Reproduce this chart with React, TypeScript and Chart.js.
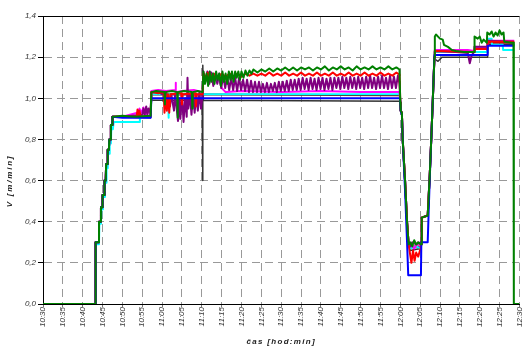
import React, { useEffect, useRef } from 'react';
import { Chart, registerables } from 'chart.js';

Chart.register(...registerables);

type P = [number, number];

// time = minutes after 10:30, value = V [m/min]
const X_TICK_LABELS = ['10:30','10:35','10:40','10:45','10:50','10:55','11:00','11:05','11:10','11:15','11:20','11:25','11:30','11:35','11:40','11:45','11:50','11:55','12:00','12:05','12:10','12:15','12:20','12:25','12:30'];
const Y_TICK_LABELS = ['0,0','0,2','0,4','0,6','0,8','1,0','1,2','1,4'];
const X_TITLE = 'čas [hod:min]';
const Y_TITLE = 'V [m/min]';

const RAMP: P[] = [[0,0],[13.2,0],[13.25,0.3],[14.0,0.3],[14.1,0.4],[14.5,0.4],[14.6,0.47],[14.9,0.47],[15.0,0.53],[15.4,0.53],[15.5,0.6],[15.8,0.6],[15.9,0.68],[16.2,0.68],[16.3,0.75],[16.6,0.75],[16.7,0.8],[17.0,0.8],[17.1,0.87],[17.4,0.87],[17.5,0.91]];
const DROP: P[] = [[90.0,0.98],[90.1,0.94],[90.4,0.93],[90.6,0.8],[91.2,0.6],[91.7,0.4],[92.1,0.29]];
const RISE: P[] = [[95.3,0.29],[95.4,0.42],[96.9,0.43],[97.4,0.62],[97.9,0.85],[98.3,1.05],[98.6,1.2]];

const GREEN: P[] = [...RAMP,
  [20,0.915],[23,0.91],[27.1,0.915],[27.3,1.03],[28.5,1.035],[30.6,1.03],[30.7,0.97],[30.8,1.03],[32.5,1.035],[33.8,1.03],[33.9,0.905],[34.0,1.03],[35.5,1.035],[37.5,1.03],[37.6,0.95],[37.7,1.03],[39,1.035],[40.2,1.03],
  [40.4,1.13],[40.8,1.07],[41.2,1.12],[41.6,1.06],[42,1.13],[42.4,1.08],[42.8,1.12],[43.2,1.07],[43.6,1.13],[44,1.09],[44.4,1.12],[44.8,1.06],[45.2,1.13],[45.6,1.08],[46,1.12],[46.4,1.07],[46.8,1.13],[47.2,1.09],[47.6,1.13],[48,1.08],[48.4,1.13],[48.8,1.1],[49.2,1.13],[49.6,1.09],[50,1.13],[50.5,1.1],[51,1.135],[51.5,1.11],[52,1.135],[52.5,1.12],[53,1.14],[54,1.125],[55,1.14],[56,1.13],[57,1.145],[58,1.13],[59,1.145],[60,1.135],[61,1.15],[62,1.135],[63,1.15],[64,1.135],[65,1.15],[66,1.14],[67,1.15],[68,1.135],[69,1.15],[70,1.14],[71,1.155],[72,1.135],[73,1.15],[74,1.14],[75,1.155],[76,1.14],[77,1.15],[78,1.135],[79,1.155],[80,1.14],[81,1.15],[82,1.14],[83,1.155],[84,1.14],[85,1.15],[86,1.14],[87,1.155],[88,1.14],[89,1.15],[89.8,1.14],
  ...DROP,
  [92.5,0.3],[93,0.28],[93.5,0.31],[94,0.29],[94.5,0.3],[95.1,0.29],
  ...RISE,
  [98.7,1.3],[99,1.31],[99.5,1.3],[100,1.29],[100.7,1.285],[101,1.26],[102,1.25],[103,1.235],[104,1.23],[106,1.225],[108.6,1.225],[108.7,1.3],[109.5,1.29],[110,1.3],[110.5,1.27],[111,1.285],[111.8,1.27],[111.9,1.32],[112.5,1.31],[113,1.325],[113.5,1.3],[114,1.32],[114.5,1.305],[115,1.33],[115.5,1.31],[116,1.32],[116.2,1.275],[118,1.27],[118.5,1.27],[118.6,0],[120,0]];

const BLUE: P[] = [...RAMP,
  [20,0.905],[27.1,0.905],[27.3,1.0],[89.9,1.0],
  [90.1,0.94],[90.4,0.92],[90.6,0.8],[91.2,0.55],[91.7,0.3],[92.0,0.14],[95.2,0.14],[95.3,0.3],[96.9,0.3],[97.4,0.6],[97.9,0.85],[98.3,1.05],[98.6,1.21],[111.9,1.21],[112,1.255],[118.7,1.255]];

const CYAN: P[] = [[0,0],[13.3,0],[13.35,0.29],[14.1,0.29],[14.2,0.39],[14.6,0.39],[14.7,0.46],[15.0,0.46],[15.1,0.52],[15.5,0.52],[15.6,0.59],[15.9,0.59],[16.0,0.66],[16.3,0.66],[16.4,0.73],[16.7,0.73],[16.8,0.78],[17.1,0.78],[17.2,0.85],[17.6,0.85],[17.8,0.885],[24.3,0.885],[24.4,0.91],[27.1,0.91],[27.3,1.02],[31.5,1.02],[31.6,0.905],[31.7,1.02],[89.9,1.02],
  ...DROP,
  [92.5,0.27],[94,0.28],[95.1,0.27],
  ...RISE,
  [98.7,1.225],[111.9,1.225],[112,1.29],[113,1.29],[113.1,1.26],[115.8,1.26],[115.9,1.235],[118.7,1.235]];

const RED: P[] = [...RAMP,
  [20,0.91],[23.6,0.91],[23.8,0.945],[24.0,0.91],[24.3,0.94],[24.6,0.91],[27.1,0.91],[27.3,1.03],[29,1.025],[30.4,1.03],[30.6,0.93],[30.9,1.02],[31.2,0.94],[31.5,1.02],[31.8,0.93],[32.1,1.02],[34.8,1.025],[35,0.97],[35.2,1.02],[38.3,1.025],[38.5,0.96],[38.7,1.02],[40.2,1.02],
  [40.4,1.12],[41,1.1],[41.5,1.125],[42,1.1],[43,1.12],[44,1.1],[45,1.12],[46,1.105],[47,1.12],[48,1.105],[49,1.12],[50,1.105],[51,1.12],[52,1.11],[53,1.12],[54,1.11],[55,1.12],[56,1.11],[57,1.125],[58,1.11],[59,1.12],[60,1.11],[61,1.125],[62,1.11],[63,1.12],[64,1.11],[65,1.125],[66,1.11],[67,1.12],[68,1.11],[69,1.125],[70,1.11],[71,1.12],[72,1.11],[73,1.125],[74,1.11],[75,1.12],[76,1.11],[77,1.125],[78,1.11],[79,1.12],[80,1.11],[81,1.125],[82,1.11],[83,1.12],[84,1.11],[85,1.125],[86,1.11],[87,1.12],[88,1.11],[89,1.125],[89.8,1.115],
  ...DROP,
  [92.4,0.25],[92.8,0.2],[93.2,0.26],[93.6,0.21],[94,0.25],[94.5,0.23],[95.1,0.27],
  ...RISE,
  [98.7,1.23],[108.6,1.225],[108.7,1.24],[111.9,1.24],[112,1.275],[118.7,1.275]];

const PURPLE: P[] = [...RAMP,
  [20,0.91],[25,0.92],[25.3,0.95],[25.6,0.92],[26,0.96],[26.3,0.92],[26.6,0.95],[27.1,0.93],[27.3,1.03],[29,1.03],[30,1.02],[31,1.03],[32,0.96],[32.3,1.02],[33,0.94],[33.3,1.02],[34,0.89],[34.3,1.0],[34.6,0.9],[35,1.02],[35.4,0.885],[35.8,1.0],[36.2,0.91],[36.4,1.1],[36.6,0.95],[37,1.02],[37.4,0.92],[37.8,1.02],[38.2,0.93],[38.6,1.02],[39,0.94],[39.4,1.03],[39.8,0.95],[40.2,1.02],
  [40.4,1.13],[40.9,1.08],[41.4,1.13],[41.9,1.07],[42.4,1.125],[42.9,1.06],[43.4,1.12],[43.9,1.07],[44.4,1.12],[44.9,1.05],[45.4,1.11],[45.9,1.05],[46.4,1.11],[46.9,1.04],[47.4,1.10],[47.9,1.04],[48.4,1.10],[48.9,1.035],[49.4,1.10],[49.9,1.04],[50.4,1.09],[50.9,1.035],[51.4,1.09],[51.9,1.03],[52.4,1.085],[52.9,1.03],[53.4,1.08],[53.9,1.03],[54.4,1.08],[54.9,1.03],[55.4,1.07],[55.9,1.03],[56.4,1.075],[56.9,1.03],[57.4,1.07],[57.9,1.035],[58.4,1.075],[58.9,1.03],[59.4,1.08],[59.9,1.035],[60.4,1.08],[60.9,1.035],[61.4,1.085],[61.9,1.035],[62.4,1.09],[62.9,1.04],[63.4,1.09],[63.9,1.04],[64.4,1.095],[64.9,1.04],[65.4,1.1],[65.9,1.045],[66.4,1.095],[66.9,1.04],[67.4,1.1],[67.9,1.045],[68.4,1.095],[68.9,1.04],[69.4,1.1],[69.9,1.045],[70.4,1.1],[70.9,1.04],[71.4,1.095],[71.9,1.045],[72.4,1.1],[72.9,1.04],[73.4,1.1],[73.9,1.05],[74.4,1.1],[74.9,1.045],[75.4,1.105],[75.9,1.05],[76.4,1.1],[76.9,1.045],[77.4,1.105],[77.9,1.05],[78.4,1.1],[78.9,1.045],[79.4,1.105],[79.9,1.05],[80.4,1.1],[80.9,1.045],[81.4,1.105],[81.9,1.05],[82.4,1.11],[82.9,1.05],[83.4,1.1],[83.9,1.045],[84.4,1.105],[84.9,1.05],[85.4,1.11],[85.9,1.05],[86.4,1.1],[86.9,1.045],[87.4,1.11],[87.9,1.05],[88.4,1.105],[88.9,1.05],[89.4,1.11],[89.8,1.07],
  ...DROP,
  [92.5,0.28],[93,0.3],[94,0.29],[95.1,0.3],
  ...RISE,
  [98.7,1.23],[104,1.225],[107,1.22],[107.5,1.17],[108,1.21],[108.6,1.225],[108.7,1.25],[111.9,1.25],[112,1.28],[118.7,1.275]];

const MAGENTA: P[] = [...RAMP,
  [20,0.91],[23.8,0.93],[24.3,0.95],[24.8,0.93],[25.3,0.955],[25.8,0.92],[26.3,0.945],[27.1,0.92],[27.3,1.035],[29,1.04],[31,1.035],[33.3,1.04],[33.4,1.075],[33.5,1.03],[35,1.035],[38,1.04],[40.2,1.03],
  [40.4,1.12],[41,1.1],[42,1.13],[43,1.09],[44,1.11],[45,1.05],[46,1.03],[50,1.035],[60,1.03],[70,1.035],[80,1.03],[89.8,1.03],
  ...DROP,
  [92.5,0.29],[93.5,0.27],[94.5,0.3],[95.1,0.28],
  ...RISE,
  [98.7,1.235],[107,1.235],[108.6,1.23],[108.7,1.25],[111.9,1.245],[112,1.28],[118.7,1.28]];

const MAROON: P[] = [...RAMP,
  [27.1,0.91],[27.3,1.02],[89.9,1.015],
  ...DROP,
  [92.5,0.28],[95.1,0.28],
  ...RISE,
  [98.7,1.225],[111.9,1.225],[112,1.27],[118.7,1.27]];

const GRAY: P[] = [...RAMP,
  [27.1,0.905],[27.3,0.99],[40.1,0.99],[40.2,0.6],[40.3,1.16],[40.4,0.99],[89.9,0.985],
  ...DROP,
  [92.5,0.26],[95.1,0.27],
  ...RISE,
  [98.7,1.19],[99.5,1.18],[100.5,1.2],[111.9,1.2],[112,1.26],[118.7,1.26]];

const SERIES_DATA: P[][] = [GREEN, BLUE, RED, PURPLE, MAGENTA, CYAN, MAROON, GRAY];
const SERIES_COLORS = ['#008000', '#0000ff', '#ff0000', '#800080', '#ff00ff', '#00ffff', '#800000', '#333333'];
const SERIES_WIDTHS = [2, 2, 2, 2, 2, 2, 2, 1.5];

const FONT_FAMILY = '"Liberation Sans", Arial, sans-serif';

const titlesPlugin = {
  id: 'axisTitles',
  afterDraw(chart: any) {
    const { ctx, chartArea } = chart;
    ctx.save();
    ctx.strokeStyle = '#000';
    ctx.lineWidth = 1;
    ctx.beginPath();
    ctx.moveTo(chartArea.left, Math.round(chartArea.top) + 0.5);
    ctx.lineTo(chartArea.right, Math.round(chartArea.top) + 0.5);
    ctx.stroke();
    ctx.fillStyle = '#222';
    ctx.font = `italic bold 8px ${FONT_FAMILY}`;
    ctx.textAlign = 'center';
    ctx.textBaseline = 'middle';
    (ctx as any).letterSpacing = '1.3px';
    ctx.fillText(X_TITLE, (chartArea.left + chartArea.right) / 2, 342);
    ctx.translate(10, 181);
    ctx.rotate(-Math.PI / 2);
    (ctx as any).letterSpacing = '1.8px';
    ctx.fillText(Y_TITLE, 0, 0);
    ctx.restore();
  },
};

export default function App() {
  const ref = useRef<HTMLCanvasElement>(null);
  useEffect(() => {
    document.body.style.margin = '0';
    const canvas = ref.current!;
    const tickFont = { family: FONT_FAMILY, size: 8, style: 'italic' as const };
    const chart = new Chart(canvas, {
      type: 'line',
      data: {
        datasets: SERIES_DATA.map((pts, i) => ({
          data: pts.map(([x, y]) => ({ x, y })),
          borderColor: SERIES_COLORS[i],
          backgroundColor: SERIES_COLORS[i],
          borderWidth: SERIES_WIDTHS[i],
          pointRadius: 0,
          tension: 0,
          fill: false,
          borderJoinStyle: 'round' as const,
        })),
      },
      options: {
        animation: false,
        responsive: false,
        events: [],
        plugins: { legend: { display: false }, tooltip: { enabled: false } },
        layout: { autoPadding: false, padding: { top: 16, right: 1, left: 5, bottom: 0 } },
        scales: {
          x: {
            type: 'linear',
            min: 0,
            max: 120,
            afterFit: (s: any) => { s.height = 43; },
            ticks: {
              stepSize: 5,
              autoSkip: false,
              minRotation: 90,
              maxRotation: 90,
              padding: 0,
              color: '#333',
              font: tickFont,
              callback: (_v: any, i: number) => X_TICK_LABELS[i],
            },
            grid: { color: '#999', tickColor: '#777', tickLength: 3, lineWidth: 1 },
            border: { color: '#000', width: 1, dash: [8, 5] },
          },
          y: {
            type: 'linear',
            min: 0,
            max: 1.4,
            afterFit: (s: any) => { s.width = 38; },
            ticks: {
              stepSize: 0.2,
              padding: 2,
              color: '#333',
              font: tickFont,
              callback: (_v: any, i: number) => Y_TICK_LABELS[i],
            },
            grid: { color: '#999', tickColor: '#000', tickLength: 5, lineWidth: 1 },
            border: { color: '#000', width: 1, dash: [8, 5] },
          },
        },
      },
      plugins: [titlesPlugin],
    });
    return () => chart.destroy();
  }, []);
  return (
    <div style={{ width: 529, height: 347 }}>
      <canvas ref={ref} width={529} height={347} style={{ display: 'block' }} />
    </div>
  );
}
